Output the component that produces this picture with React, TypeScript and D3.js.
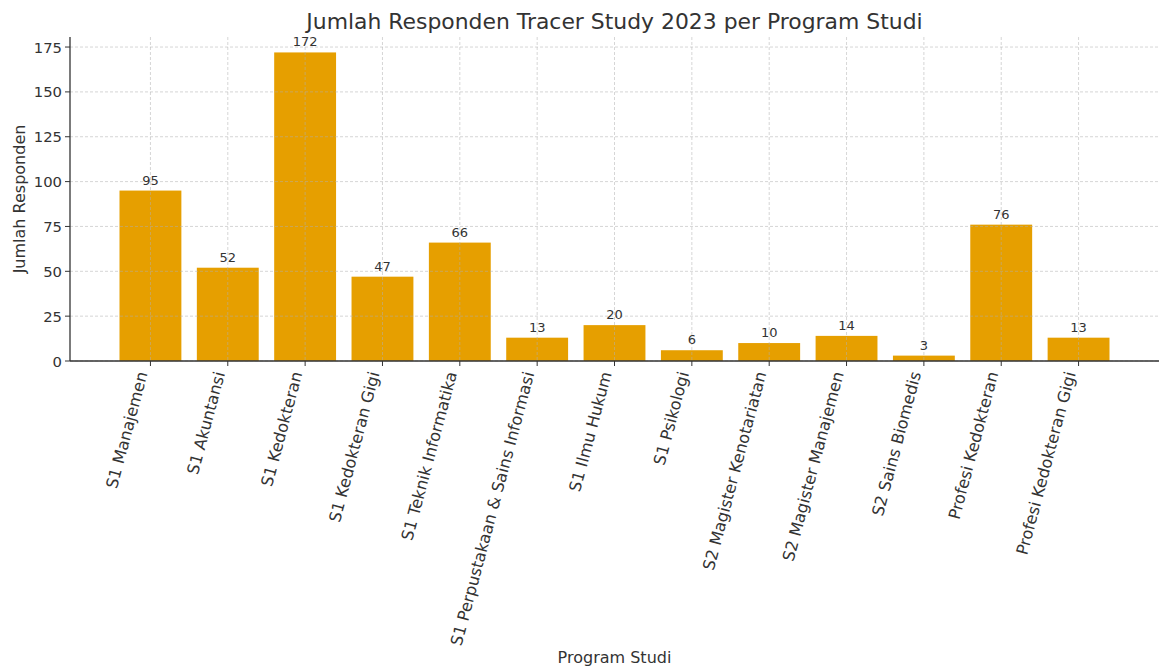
import React from "react";
import * as d3 from "d3";

const programs = [
  "S1 Manajemen",
  "S1 Akuntansi",
  "S1 Kedokteran",
  "S1 Kedokteran Gigi",
  "S1 Teknik Informatika",
  "S1 Perpustakaan & Sains Informasi",
  "S1 Ilmu Hukum",
  "S1 Psikologi",
  "S2 Magister Kenotariatan",
  "S2 Magister Manajemen",
  "S2 Sains Biomedis",
  "Profesi Kedokteran",
  "Profesi Kedokteran Gigi",
];
const respondents = [95, 52, 172, 47, 66, 13, 20, 6, 10, 14, 3, 76, 13];
const yTicks = [0, 25, 50, 75, 100, 125, 150, 175];

const W = 1160;
const H = 670;
const left = 70;
const right = 1159;
const top = 37;
const bottom = 361;
const FONT = "'DejaVu Sans', sans-serif";
const TEXT = "#333333";

export default function App() {
  const n = programs.length;
  const x = d3
    .scaleLinear()
    .domain([-1.04, n - 1 + 1.04])
    .range([left, right]);
  const step = x(1) - x(0);
  const bw = step * 0.8;
  const yMax = (d3.max(respondents) as number) * 1.05;
  const y = d3.scaleLinear().domain([0, yMax]).range([bottom, top]);

  return (
    <svg
      width={W}
      height={H}
      style={{ position: "absolute", left: 0, top: 0, background: "#fff" }}
      fontFamily={FONT}
    >
      {/* bars */}
      {respondents.map((v, i) => (
        <rect
          key={"b" + i}
          x={x(i) - bw / 2}
          y={y(v)}
          width={bw}
          height={y(0) - y(v)}
          fill="#E69F00"
        />
      ))}
      {/* grid */}
      {yTicks.map((t) => (
        <line
          key={"gy" + t}
          x1={left}
          x2={right}
          y1={y(t)}
          y2={y(t)}
          stroke="#b0b0b0"
          strokeOpacity={0.65}
          strokeWidth={0.8}
          strokeDasharray="3,2"
        />
      ))}
      {programs.map((p, i) => (
        <line
          key={"gx" + i}
          x1={x(i)}
          x2={x(i)}
          y1={top}
          y2={bottom}
          stroke="#b0b0b0"
          strokeOpacity={0.65}
          strokeWidth={0.8}
          strokeDasharray="3,2"
        />
      ))}
      {/* value labels */}
      {respondents.map((v, i) => (
        <text
          key={"v" + i}
          x={x(i)}
          y={y(v) - 6}
          textAnchor="middle"
          fontSize={13}
          fill={TEXT}
        >
          {v}
        </text>
      ))}
      {/* spines */}
      <line x1={left} x2={left} y1={top} y2={bottom} stroke="#333" strokeWidth={1.3} />
      <line x1={left} x2={right} y1={bottom} y2={bottom} stroke="#333" strokeWidth={1.3} />
      {/* y ticks */}
      {yTicks.map((t) => (
        <g key={"yt" + t}>
          <line x1={left - 5} x2={left} y1={y(t)} y2={y(t)} stroke="#333" strokeWidth={1} />
          <text
            x={left - 8}
            y={y(t)}
            textAnchor="end"
            dominantBaseline="central"
            fontSize={14.8}
            fill={TEXT}
          >
            {t}
          </text>
        </g>
      ))}
      {/* x ticks */}
      {programs.map((p, i) => (
        <g key={"xt" + i}>
          <line x1={x(i)} x2={x(i)} y1={bottom} y2={bottom + 5} stroke="#333" strokeWidth={1} />
          <text
            transform={`translate(${x(i) - 8},${bottom + 11}) rotate(-75)`}
            textAnchor="end"
            dominantBaseline="central"
            fontSize={16.2}
            fill={TEXT}
          >
            {p}
          </text>
        </g>
      ))}
      {/* axis labels */}
      <text
        x={(left + right) / 2}
        y={663}
        textAnchor="middle"
        fontSize={16}
        fill={TEXT}
      >
        Program Studi
      </text>
      <text
        transform={`translate(25,${(top + bottom) / 2}) rotate(-90)`}
        textAnchor="middle"
        fontSize={16}
        fill={TEXT}
      >
        Jumlah Responden
      </text>
      {/* title */}
      <text
        x={(left + right) / 2}
        y={29}
        textAnchor="middle"
        fontSize={21.9}
        fill={TEXT}
      >
        Jumlah Responden Tracer Study 2023 per Program Studi
      </text>
    </svg>
  );
}
